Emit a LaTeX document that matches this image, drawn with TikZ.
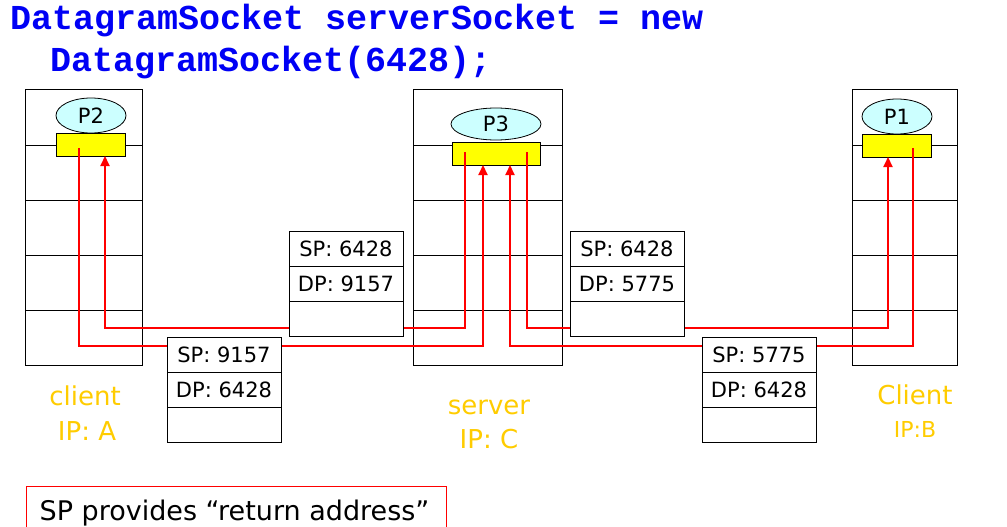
\documentclass[tikz,border=0pt]{standalone}
\usepackage{fontspec}
\setmainfont{DejaVu Sans}
\newfontfamily\codefont{Liberation Mono}
\usetikzlibrary{arrows.meta,shapes.geometric}
\definecolor{codeblue}{RGB}{0,0,245}
\definecolor{labgold}{RGB}{255,204,0}
\definecolor{proccyan}{RGB}{204,255,255}
\definecolor{sockyellow}{RGB}{255,255,0}
\newcommand\pktbox[5]{%
  \node[pkt] (#1) at (#2,#3) {};
  \draw[thinline] ([yshift=-35pt]#1.north west) -- ([yshift=-35pt]#1.north east);
  \draw[thinline] ([yshift=-70pt]#1.north west) -- ([yshift=-70pt]#1.north east);
  \node[pkttext] (#1sp) at ([yshift=-17.5pt]#1.north) {SP: #4};
  \node[pkttext] (#1dp) at ([yshift=-52.5pt]#1.north) {DP: #5};
}
\begin{document}
\begin{tikzpicture}[x=1pt,y=-1pt,
  thinline/.style={line width=1pt,black},
  hostbox/.style={draw,line width=1pt,anchor=north west,minimum width=#1,minimum height=275pt,inner sep=0pt,outer sep=0pt},
  sock/.style={draw,line width=1pt,fill=sockyellow,minimum height=23pt,inner sep=0pt,outer sep=0pt},
  proc/.style={ellipse,draw,line width=0.8pt,fill=proccyan,inner sep=0pt,font=\fontsize{21}{24}\selectfont},
  pkt/.style={draw,line width=1pt,fill=white,anchor=north west,minimum width=114pt,minimum height=105pt,inner sep=0pt,outer sep=0pt},
  pkttext/.style={inner sep=0pt,font=\fontsize{21}{24}\selectfont},
  wire/.style={draw=red,line width=2pt,line join=miter},
  tip/.style={-{Triangle[length=10pt,width=9pt]}},
  lab/.style={text=labgold,anchor=base,inner sep=0pt,font=\fontsize{26}{30}\selectfont},
  title/.style={text=codeblue,anchor=base west,inner sep=0pt,font=\codefont\bfseries\fontsize{35}{40}\selectfont}
]
\useasboundingbox (0,0) rectangle (1007,527);
\clip (0,0) rectangle (1007,527);

% title
\node[title] (t1) at (10,30) {DatagramSocket serverSocket = new};
\node[title] (t2) at (50,72) {DatagramSocket(6428);};

% hosts
\node[hostbox=117pt] (hostA) at (25,90) {};
\node[hostbox=149pt] (hostC) at (413,90) {};
\node[hostbox=105pt] (hostB) at (852,90) {};
\foreach \yy in {145,200,255,310}{
  \draw[thinline] (25,\yy) -- (142,\yy);
  \draw[thinline] (413,\yy) -- (562,\yy);
  \draw[thinline] (852,\yy) -- (957,\yy);
}

% sockets and processes
\node[sock,minimum width=69pt] (sockA) at (90.5,144.5) {};
\node[sock,minimum width=88pt] (sockC) at (496,153.5) {};
\node[sock,minimum width=69pt] (sockB) at (896.5,145.5) {};
\node[proc,minimum width=70pt,minimum height=35pt] (P2) at (91,115.5) {P2};
\node[proc,minimum width=90pt,minimum height=32pt] (P3) at (496,124) {P3};
\node[proc,minimum width=70pt,minimum height=35pt] (P1) at (897,116.5) {P1};

% wire anchor points
\coordinate (lo) at (0,346);
\coordinate (hi) at (0,328);
\coordinate (Aout) at (79,148);
\coordinate (Ain) at (105,0);
\coordinate (Cin1) at (483,0);
\coordinate (Cout1) at (465,152);
\coordinate (Cin2) at (510,0);
\coordinate (Cout2) at (527,152);
\coordinate (Bout) at (913,148);
\coordinate (Bin) at (888,0);

% red connectors
\draw[wire,tip] (Aout) -- (Aout |- lo) -- (Cin1 |- lo) -- (Cin1 |- sockC.south);
\draw[wire,tip] (Cout1) -- (Cout1 |- hi) -- (Ain |- hi) -- (Ain |- sockA.south);
\draw[wire,tip] (Bout) -- (Bout |- lo) -- (Cin2 |- lo) -- (Cin2 |- sockC.south);
\draw[wire,tip] (Cout2) -- (Cout2 |- hi) -- (Bin |- hi) -- (Bin |- sockB.south);

% packets
\pktbox{pA}{167}{337}{9157}{6428}
\pktbox{pB}{289}{231}{6428}{9157}
\pktbox{pC}{570}{231}{6428}{5775}
\pktbox{pD}{702}{337}{5775}{6428}

% labels
\node[lab] (clA1) at (85,405) {client};
\node[lab] (clA2) at (87,440) {IP: A};
\node[lab] (srv1) at (489,414) {server};
\node[lab] (srv2) at (489,448) {IP: C};
\node[lab] (clB1) at (915,404) {Client};
\node[lab,font=\fontsize{22}{26}\selectfont] (clB2) at (915,437) {IP:B};

% note
\node[draw=red,line width=1pt,anchor=north west,minimum width=420pt,minimum height=60pt,inner sep=0pt] (notebox) at (26,486) {};
\node[anchor=base,inner sep=0pt,font=\fontsize{27}{30}\selectfont] (notetext) at (234.5,520) {SP provides “return address”};
\end{tikzpicture}
\end{document}
